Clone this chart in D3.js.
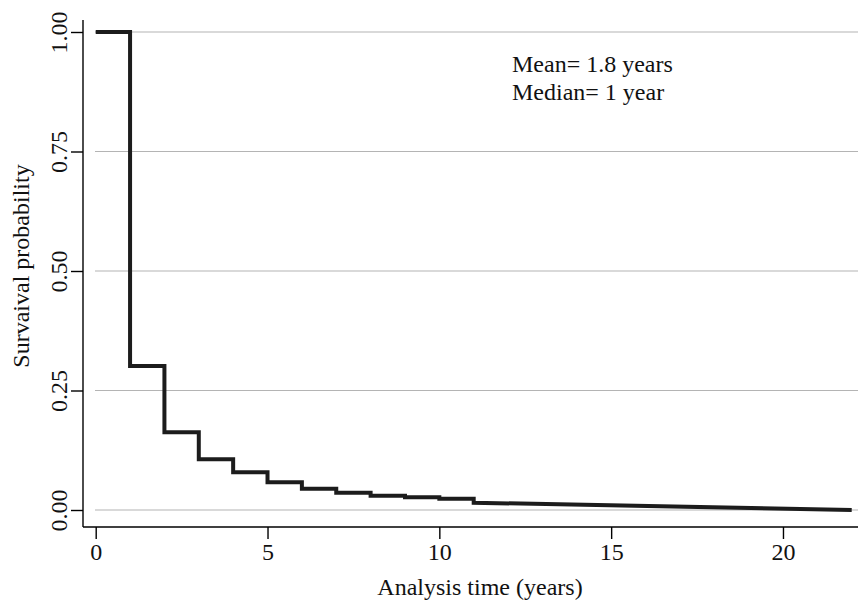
<!DOCTYPE html>
<html>
<head>
<meta charset="utf-8">
<script src="https://d3js.org/d3.v7.min.js"></script>
<style>
body { margin: 0; background: #fff; }
text { font-family: "Liberation Serif", "Times New Roman", serif; fill: #111; }
</style>
</head>
<body>
<script>
// Kaplan-Meier estimate
var times = [0, 1, 2, 3, 4, 5, 6, 7, 8, 9, 10, 11, 22];
var surv = [1.0, 0.301, 0.1625, 0.106, 0.079, 0.058, 0.0446, 0.036, 0.030, 0.0265, 0.0237, 0.0153, 0.0];
var xTicks = [0, 5, 10, 15, 20];
var yTicks = [0, 0.25, 0.5, 0.75, 1];
var notes = ["Mean= 1.8 years", "Median= 1 year"];

var width = 858, height = 600;
var svg = d3.select("body").append("svg")
  .attr("width", width).attr("height", height);

var x = d3.scaleLinear().domain([0, 22]).range([95.7, 851.7]);
var y = d3.scaleLinear().domain([0, 1]).range([510, 32]);

// grid lines
svg.append("g").selectAll("line").data(yTicks).enter().append("line")
  .attr("x1", 95).attr("x2", width)
  .attr("y1", function(d) { return y(d); })
  .attr("y2", function(d) { return y(d); })
  .style("stroke", "#b4b4b4").style("stroke-width", 1.2);

// axes
var xaxis = d3.axisBottom(x).tickValues(xTicks).tickSize(12).tickPadding(4)
  .tickFormat(d3.format("d"));
var yaxis = d3.axisLeft(y).tickValues(yTicks).tickSize(12).tickPadding(4)
  .tickFormat(d3.format(".2f"));

var gx = svg.append("g").attr("transform", "translate(0,527)").call(xaxis);
gx.select(".domain").remove();
gx.append("line").attr("x1", 83).attr("x2", width).attr("y1", 0).attr("y2", 0)
  .style("stroke", "#000").style("stroke-width", 1.4);
gx.selectAll(".tick line").style("stroke", "#000").style("stroke-width", 1.4);
gx.selectAll(".tick text").style("font-size", "24px")
  .style("font-family", "Liberation Serif").style("fill", "#111");

var gy = svg.append("g").attr("transform", "translate(83,0)").call(yaxis);
gy.select(".domain").remove();
gy.append("line").attr("x1", 0).attr("x2", 0).attr("y1", 20).attr("y2", 527)
  .style("stroke", "#000").style("stroke-width", 1.4);
gy.selectAll(".tick line").style("stroke", "#000").style("stroke-width", 1.4);
gy.selectAll(".tick text")
  .attr("x", 0).attr("dy", 0)
  .attr("transform", "translate(-16,0) rotate(-90)")
  .attr("text-anchor", "middle")
  .style("font-size", "24px")
  .style("font-family", "Liberation Serif").style("fill", "#111");

// survival curve: steps up to 11, then straight to the last point
var pts = [];
for (var i = 0; i < times.length - 2; i++) {
  pts.push([times[i], surv[i]]);
  pts.push([times[i + 1], surv[i]]);
}
pts.push([times[times.length - 2], surv[surv.length - 2]]);
pts.push([times[times.length - 1], surv[surv.length - 1]]);

var line = d3.line()
  .x(function(d) { return x(d[0]); })
  .y(function(d) { return y(d[1]); });

svg.append("path").datum(pts)
  .attr("d", line)
  .style("fill", "none").style("stroke", "#1c1c1c")
  .style("stroke-width", 4).style("stroke-linejoin", "miter");

// annotation
svg.append("g").selectAll("text").data(notes).enter().append("text")
  .attr("x", 512)
  .attr("y", function(d, i) { return 72 + i * 28; })
  .style("font-size", "24px")
  .text(function(d) { return d; });

// axis titles
svg.append("text")
  .attr("x", 480).attr("y", 595)
  .attr("text-anchor", "middle")
  .style("font-size", "24px")
  .text("Analysis time (years)");

svg.append("text")
  .attr("transform", "translate(29,266) rotate(-90)")
  .attr("text-anchor", "middle")
  .style("font-size", "24px")
  .text("Survaival probability");
</script>
</body>
</html>
